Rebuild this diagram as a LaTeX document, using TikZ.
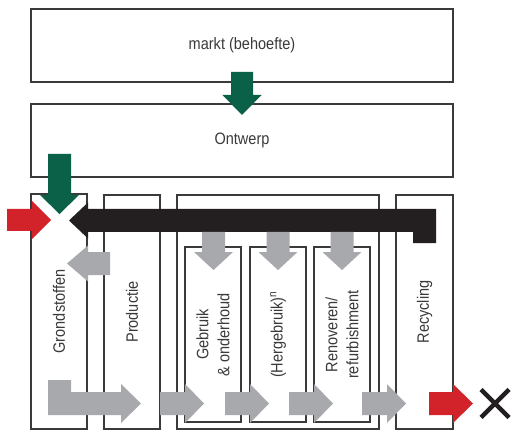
\documentclass[tikz,border=0pt]{standalone}
\usepackage{fontspec}
\setmainfont{Liberation Sans}[FakeStretch=0.88]
\definecolor{pijlgrijs}{HTML}{A7A9AC}
\definecolor{pijlgroen}{HTML}{0B6148}
\definecolor{pijlrood}{HTML}{D2232A}
\definecolor{pijlzwart}{HTML}{231F20}
\definecolor{lijngrijs}{HTML}{3A3A3A}
\tikzset{
  kader/.style={draw=lijngrijs,line width=1.1pt,fill=white,inner sep=0pt,
    text=lijngrijs,font=\fontsize{16.5}{21}\selectfont,align=center},
  kolom/.style={kader,rotate=90},
  grijs/.style={fill=pijlgrijs},
  groen/.style={fill=pijlgroen},
  rood/.style={fill=pijlrood},
  zwart/.style={fill=pijlzwart}
}
\begin{document}
\begin{tikzpicture}[x=1pt,y=-1pt]
\useasboundingbox (0,0) rectangle (516,430);
\node[kader,minimum width=422pt,minimum height=73pt] (markt) at (242,45.5) {markt (behoefte)};
\node[kader,minimum width=422pt,minimum height=73pt] (ontwerp) at (242,140.5) {Ontwerp};
\node[kolom,minimum width=235pt,minimum height=56pt] (grondstoffen) at (59,311.5) {Grondstoffen};
\node[kolom,minimum width=234pt,minimum height=56pt] (productie) at (132,312) {Productie};
\node[kader,minimum width=202pt,minimum height=234pt] (gebruiksfase) at (278,312) {};
\node[kolom,minimum width=234pt,minimum height=57pt] (recycling) at (424.5,312) {Recycling};
\node[kolom,minimum width=175pt,minimum height=56pt] (gebruik) at (213,334.5) {Gebruik\\\& onderhoud};
\node[kolom,minimum width=175pt,minimum height=56pt] (hergebruik) at (278,334.5) {(Hergebruik)\textsuperscript{n}};
\node[kolom,minimum width=175pt,minimum height=56pt] (renoveren) at (342,334.5) {Renoveren/\\refurbishment};
\fill[groen] (231,72) -- (253,72) -- (253,95) -- (261.5,95) -- (242,115) -- (222.5,95) -- (231,95) -- cycle;
\fill[groen] (48,154) -- (71,154) -- (71,195) -- (79,195) -- (59.5,214) -- (40,195) -- (48,195) -- cycle;
\fill[rood] (7,209) -- (32,209) -- (32,201) -- (51,220) -- (32,239) -- (32,231) -- (7,231) -- cycle;
\fill[zwart] (69,220.5) -- (88,202.5) -- (88,209) -- (436,209) -- (436,243) -- (413,243) -- (413,232)
  -- (88,232) -- (88,238.5) -- cycle;
\fill[grijs] (110,252) -- (88,252) -- (88,245.5) -- (67,263.5) -- (88,281.5) -- (88,275) -- (110,275) -- cycle;
\foreach \m in {213.5,278,342}
  \fill[grijs] ({\m-11.5},232) -- ({\m+11.5},232) -- ({\m+11.5},252) -- ({\m+19.5},252) -- (\m,270)
    -- ({\m-19.5},252) -- ({\m-11.5},252) -- cycle;
\fill[grijs] (48,380) -- (71,380) -- (71,392) -- (121,392) -- (121,384) -- (141,403.5) -- (121,423)
  -- (121,415) -- (48,415) -- cycle;
\foreach \a/\b in {160/185,225/250,289/314,362/387}
  \fill[grijs] (\a,392) -- (\b,392) -- (\b,384) -- ({\b+19},403.5) -- (\b,423) -- (\b,415) -- (\a,415) -- cycle;
\fill[rood] (429,392) -- (453,392) -- (453,384) -- (473,403.5) -- (453,423) -- (453,415) -- (429,415) -- cycle;
\draw[pijlzwart,line width=4.5pt] (481,389.5) -- (509,417.5) (481,417.5) -- (509,389.5);
\end{tikzpicture}
\end{document}
